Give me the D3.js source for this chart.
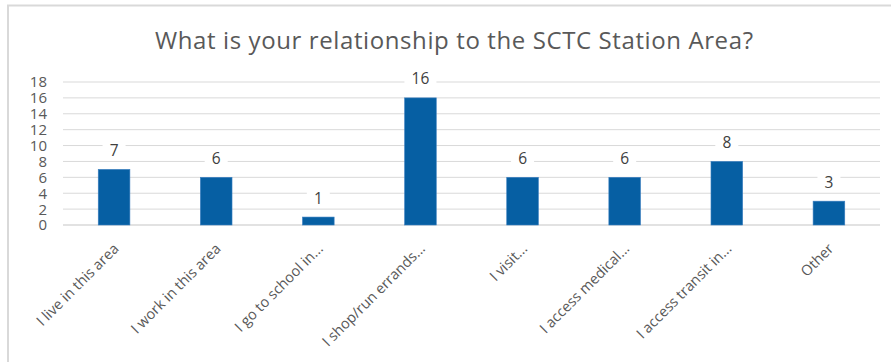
<!DOCTYPE html>
<html><head><meta charset="utf-8">
<script src="https://cdn.jsdelivr.net/npm/d3@7"></script>
<style>body{margin:0;background:#fff}svg{display:block}</style>
</head><body>
<svg id="c" width="891" height="362"></svg>
<script>
const categories = ["I live in this area","I work in this area","I go to school in...","I shop/run errands...","I visit...","I access medical...","I access transit in...","Other"];
const values = [7,6,1,16,6,6,8,3];
const yTicks = [0,2,4,6,8,10,12,14,16,18];
const title = "What is your relationship to the SCTC Station Area?";

const svg = d3.select("#c");
const font = "'Open Sans', 'Noto Sans', sans-serif";
// chart border
svg.append("path").attr("d","M8,362 V5.5 H891").attr("fill","none").attr("stroke","#d9d9d9").attr("stroke-width",2);

const x = d3.scaleBand().domain(categories).range([63,880]).paddingInner(0.69).paddingOuter(0.345);
const y = d3.scaleLinear().domain([0,18]).range([225,82]);

svg.append("text").attr("x",454).attr("y",49).attr("text-anchor","middle")
  .attr("font-family",font).attr("font-size",24).attr("fill","#595959")
  .attr("textLength",598).attr("lengthAdjust","spacing").text(title);

// gridlines
svg.append("g").selectAll("line").data(yTicks).join("line")
  .attr("x1",63).attr("x2",880).attr("y1",d=>y(d)).attr("y2",d=>y(d))
  .attr("stroke","#d9d9d9").attr("stroke-width",d=>d===0?1.5:1);

// y tick labels
svg.append("g").selectAll("text").data(yTicks).join("text")
  .attr("x",47).attr("y",d=>y(d)).attr("dy","0.36em").attr("text-anchor","end")
  .attr("font-family",font).attr("font-size",15).attr("fill","#595959").text(d=>d);

// bars
svg.append("g").selectAll("rect").data(values).join("rect")
  .attr("x",(d,i)=>x(categories[i])).attr("width",x.bandwidth())
  .attr("y",d=>y(d)).attr("height",d=>y(0)-y(d))
  .attr("fill","#065fa3").attr("stroke","#3a7fc0").attr("stroke-width",0.6);

// data labels with white bg
const lg = svg.append("g");
values.forEach((d,i)=>{
  const cx = x(categories[i]) + x.bandwidth()/2;
  const cy = y(d) - 19;
  const w = String(d).length * 9 + 14;
  lg.append("rect").attr("x",cx-w/2).attr("y",cy-10).attr("width",w).attr("height",20).attr("fill","#fff");
  lg.append("text").attr("x",cx).attr("y",cy).attr("dy","0.36em").attr("text-anchor","middle")
    .attr("font-family",font).attr("font-size",15.5).attr("fill","#404040").text(d);
});

// category labels
svg.append("g").selectAll("text").data(categories).join("text")
  .attr("transform",d=>`translate(${x(d)+x.bandwidth()/2+2},${246}) rotate(-45)`)
  .attr("text-anchor","end").attr("dy","0.35em")
  .attr("font-family",font).attr("font-size",14.5).attr("fill","#595959").text(d=>d);
</script>
</body></html>
